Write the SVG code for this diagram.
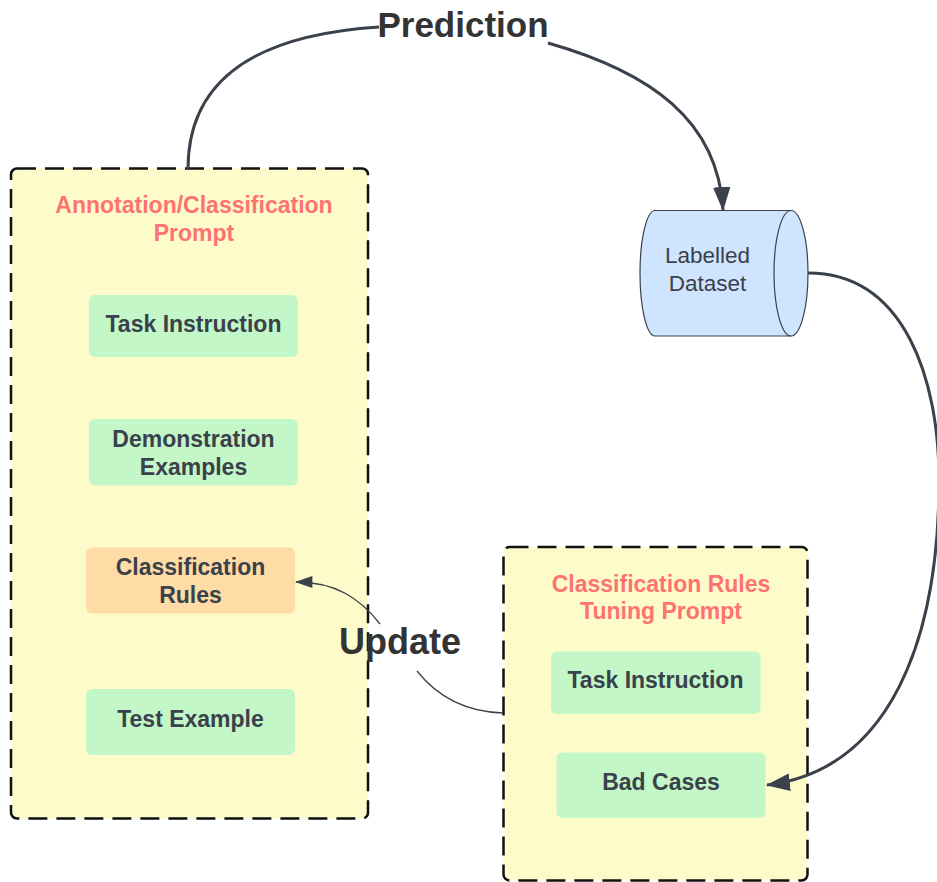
<svg xmlns="http://www.w3.org/2000/svg" width="937" height="882" viewBox="0 0 937 882">
<style>
.cont{fill:#fdfbca;stroke:#111;stroke-width:2.5;stroke-dasharray:19 9}
.green{fill:#c3f7c8}
.orange{fill:#ffdba6}
.t{font-family:"Liberation Sans",Arial,sans-serif;font-weight:bold;font-size:23px;fill:#3a414a;text-anchor:middle}
.title{font-family:"Liberation Sans",Arial,sans-serif;font-weight:bold;font-size:23px;fill:#ff7272;text-anchor:middle}
.lbl{font-family:"Liberation Sans",Arial,sans-serif;font-weight:bold;fill:#333;text-anchor:middle}
.conn{fill:none;stroke:#3a414a;stroke-width:3}
.thin{fill:none;stroke:#3a414a;stroke-width:1.3}
</style>
<defs>
<marker id="ah" markerUnits="userSpaceOnUse" markerWidth="24" markerHeight="18" viewBox="0 0 22 16" refX="21" refY="8" orient="auto">
<path d="M0,0 L22,8 L0,16 Z" fill="#3a414a"/>
</marker>
<marker id="ahs" markerUnits="userSpaceOnUse" markerWidth="18" markerHeight="12" viewBox="0 0 16 11" refX="15" refY="5.5" orient="auto">
<path d="M0,0 L16,5.5 L0,11 Z" fill="#3a414a"/>
</marker>
</defs>

<g id="annotation-prompt">
<rect class="cont" x="11" y="168.5" width="357" height="650" rx="6"/>
<text class="title" x="194" y="213">Annotation/Classification</text>
<text class="title" x="194" y="241">Prompt</text>
</g>
<g id="task-instruction-1">
<rect class="green" x="89" y="295" width="209" height="62" rx="6"/>
<text class="t" x="193.5" y="332">Task Instruction</text>
</g>
<g id="demonstration-examples">
<rect class="green" x="89" y="419" width="209" height="66.5" rx="6"/>
<text class="t" x="193.5" y="447">Demonstration</text>
<text class="t" x="193.5" y="475">Examples</text>
</g>
<g id="classification-rules">
<rect class="orange" x="86" y="547.5" width="209" height="66" rx="6"/>
<text class="t" x="190.5" y="575">Classification</text>
<text class="t" x="190.5" y="603">Rules</text>
</g>
<g id="test-example">
<rect class="green" x="86" y="689" width="209" height="66" rx="6"/>
<text class="t" x="190.5" y="727">Test Example</text>
</g>

<g id="tuning-prompt">
<rect class="cont" x="503.5" y="547" width="304" height="333.5" rx="6"/>
<text class="title" x="661" y="592">Classification Rules</text>
<text class="title" x="661" y="619">Tuning Prompt</text>
</g>
<g id="task-instruction-2">
<rect class="green" x="551" y="651.5" width="209.5" height="62.5" rx="6"/>
<text class="t" x="655.5" y="688">Task Instruction</text>
</g>
<g id="bad-cases">
<rect class="green" x="556.5" y="752.5" width="209" height="65.5" rx="6"/>
<text class="t" x="661" y="790">Bad Cases</text>
</g>

<g id="labelled-dataset">
<path d="M655,210.5 L791,210.5 A17,62.75 0 0 1 791,336 L655,336 A15,62.75 0 0 1 655,210.5 Z" fill="#cfe4ff" stroke="#3a414a" stroke-width="1.2"/>
<path d="M791,210.5 A17,62.75 0 0 0 791,336" fill="none" stroke="#3a414a" stroke-width="1.2"/>
<text x="707.5" y="263" font-family="Liberation Sans, Arial, sans-serif" font-size="22.5" fill="#3a414a" text-anchor="middle">Labelled</text>
<text x="707.5" y="291" font-family="Liberation Sans, Arial, sans-serif" font-size="22.5" fill="#3a414a" text-anchor="middle">Dataset</text>
</g>

<g id="connectors">
<path class="conn" d="M188,169 C188,90 240,36 379,27"/>
<path class="conn" d="M548,43 C650,72 718,120 723,210" marker-end="url(#ah)"/>
<text class="lbl" x="463" y="37" font-size="35">Prediction</text>
<path class="conn" d="M808,273 C905,273 939,380 939,480 C939,640 890,770 767,785" marker-end="url(#ah)"/>
<path class="thin" d="M503,713 C470,712 440,700 417,671"/>
<path class="thin" d="M380,624 C360,598 335,582 296,582" marker-end="url(#ahs)"/>
<text class="lbl" x="400" y="654" font-size="36">Update</text>
</g>
</svg>
